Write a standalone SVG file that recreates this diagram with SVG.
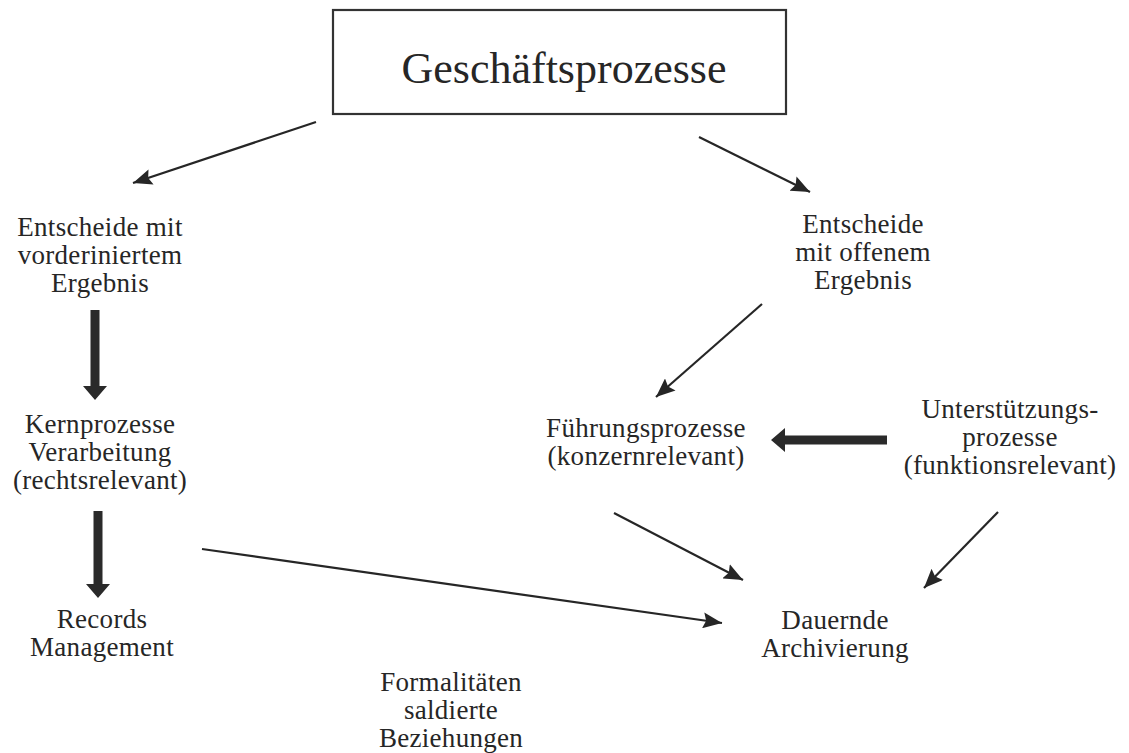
<svg xmlns="http://www.w3.org/2000/svg" width="1129" height="753" viewBox="0 0 1129 753">
<defs>
<marker id="ah" markerUnits="userSpaceOnUse" markerWidth="21" markerHeight="16" refX="19" refY="8" orient="auto">
<path d="M0,0 L19,8 L0,16 L3,8 Z" fill="#262626"/>
</marker>
<style>
.t{font-family:"Liberation Serif","Times New Roman",serif;font-size:27px;letter-spacing:0.3px;fill:#262626;text-anchor:middle}
.title{font-family:"Liberation Serif","Times New Roman",serif;font-size:44px;fill:#262626;text-anchor:middle}
.c{stroke:#262626;stroke-width:2.2;fill:none;marker-end:url(#ah)}
.thick{fill:#2a2a2a}
</style>
</defs>
<rect width="1129" height="753" fill="#ffffff"/>
<g id="geschaeftsprozesse">
<rect x="333" y="10" width="453" height="104" fill="none" stroke="#333" stroke-width="2.2"/>
<text class="title" x="564" y="83">Geschäftsprozesse</text>
</g>
<g id="entscheide-vordefiniert">
<text class="t" x="100" y="236">Entscheide mit</text>
<text class="t" x="100" y="264">vorderiniertem</text>
<text class="t" x="100" y="292">Ergebnis</text>
</g>
<g id="entscheide-offen">
<text class="t" x="863" y="233">Entscheide</text>
<text class="t" x="863" y="261">mit offenem</text>
<text class="t" x="863" y="289">Ergebnis</text>
</g>
<g id="kernprozesse">
<text class="t" x="100" y="433">Kernprozesse</text>
<text class="t" x="100" y="461">Verarbeitung</text>
<text class="t" x="100" y="489">(rechtsrelevant)</text>
</g>
<g id="fuehrungsprozesse">
<text class="t" x="646" y="437">Führungsprozesse</text>
<text class="t" x="646" y="465">(konzernrelevant)</text>
</g>
<g id="unterstuetzungsprozesse">
<text class="t" x="1010" y="418">Unterstützungs-</text>
<text class="t" x="1010" y="446">prozesse</text>
<text class="t" x="1010" y="474">(funktionsrelevant)</text>
</g>
<g id="records-management">
<text class="t" x="102" y="628">Records</text>
<text class="t" x="102" y="656">Management</text>
</g>
<g id="dauernde-archivierung">
<text class="t" x="835" y="629">Dauernde</text>
<text class="t" x="835" y="657">Archivierung</text>
</g>
<g id="formalitaeten">
<text class="t" x="451" y="691">Formalitäten</text>
<text class="t" x="451" y="719">saldierte</text>
<text class="t" x="451" y="747">Beziehungen</text>
</g>
<g id="connectors">
<line class="c" x1="316" y1="122" x2="133" y2="183"/>
<line class="c" x1="699" y1="137" x2="810" y2="192"/>
<line class="c" x1="762" y1="304" x2="656" y2="397"/>
<line class="c" x1="614" y1="513" x2="743" y2="580"/>
<line class="c" x1="998" y1="512" x2="924" y2="588"/>
<line class="c" x1="202" y1="549" x2="722" y2="623"/>
<polygon class="thick" points="90.5,310 99.5,310 99.5,386 107,386 95,400 83,386 90.5,386"/>
<polygon class="thick" points="93.5,511 102.5,511 102.5,584 110,584 98,598 86,584 93.5,584"/>
<polygon class="thick" points="887,435.5 887,444.5 785,444.5 785,452 771,440 785,428 785,435.5"/>
</g>
</svg>
